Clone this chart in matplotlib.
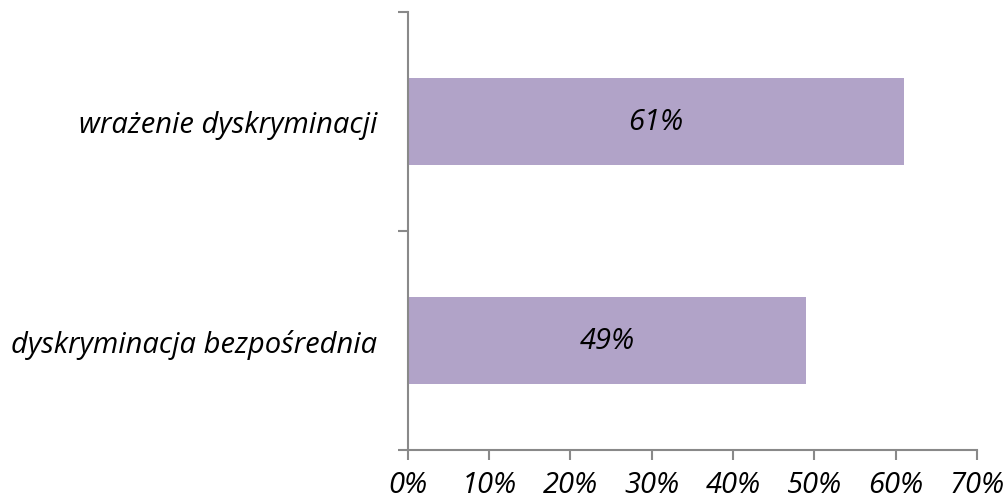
import matplotlib
matplotlib.use("Agg")
import matplotlib.pyplot as plt

categories = ["dyskryminacja bezpośrednia", "wrażenie dyskryminacji"]
values = [49, 61]
xticks = [0, 10, 20, 30, 40, 50, 60, 70]
xticklabels = ["0%", "10%", "20%", "30%", "40%", "50%", "60%", "70%"]

plt.rcParams['font.family'] = ['Open Sans', 'DejaVu Sans']
FS = 21

fig = plt.figure(figsize=(10.07, 5.02), dpi=100)
ax = fig.add_axes([0.405, 0.102, 0.565, 0.872])

pos = list(range(len(categories)))
bars = ax.barh(pos, values, height=0.4, color="#B1A3C8", zorder=2)
for p, v in zip(pos, values):
    ax.text(v / 2, p, f"{v}%", ha="center", va="center", fontsize=FS,
            style="italic", color="black")

ax.set_xlim(0, 70)
ax.set_ylim(-0.5, len(categories) - 0.5)
ax.set_xticks(xticks)
ax.set_xticklabels(xticklabels, fontsize=FS, style="italic")
ax.set_yticks([-0.5, 0.5, 1.5])
ax.set_yticklabels([])
ax.set_yticks(pos, minor=True)
ax.set_yticklabels(categories, minor=True, fontsize=FS, style="italic")
ax.tick_params(axis="y", which="minor", length=0, pad=22)
ax.tick_params(axis="y", which="major", length=7, width=1.5, color="#898989")
ax.tick_params(axis="x", length=7, width=1.5, color="#898989", pad=7.5)

for s in ["top", "right"]:
    ax.spines[s].set_visible(False)
for s in ["left", "bottom"]:
    ax.spines[s].set_color("#898989")
    ax.spines[s].set_linewidth(1.5)

fig.savefig("out.png", dpi=100)
